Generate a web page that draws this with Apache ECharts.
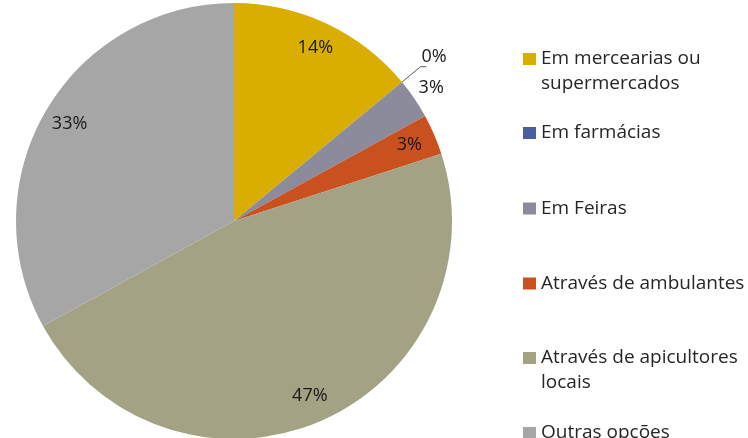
<!DOCTYPE html>
<html><head><meta charset="utf-8">
<script src="https://cdn.jsdelivr.net/npm/echarts@6/dist/echarts.min.js"></script>
<style>html,body{margin:0;padding:0;background:#fff}#c{width:748px;height:438px}</style>
</head><body><div id="c"></div>
<script>
const categories = ['Em mercearias ou supermercados','Em farmácias','Em Feiras','Através de ambulantes','Através de apicultores locais','Outras opções'];
const values = [14, 0, 3, 3, 47, 33];
const legendLabels = ['Em mercearias ou\nsupermercados','Em farmácias','Em Feiras','Através de ambulantes','Através de apicultores\nlocais','Outras opções'];
const colors = ['#D9AE00','#4A5F9E','#8B8B9B','#C9501F','#A3A285','#A6A6A6'];

const FONT = 'Open Sans';
const center = [234, 221];
const R = 218;
const outsideIdx = [1, 2];
const legendCenters = [59, 133, 208.5, 283.5, 358, 433];

const chart = echarts.init(document.getElementById('c'), null, {renderer:'canvas'});
const fmt = p => Math.round(p.value) + '%';

const legends = categories.map((name, i) => {
  const twoLine = legendLabels[i].indexOf('\n') >= 0;
  return {
    orient: 'vertical', left: 523,
    top: twoLine ? legendCenters[i] - 37.5 : legendCenters[i] - 12.5,
    padding: 0, itemWidth: 13, itemHeight: 12, itemGap: 0,
    icon: 'rect', selectedMode: false,
    data: [name],
    formatter: () => twoLine ? '\n' + legendLabels[i] : legendLabels[i],
    textStyle: {fontFamily: FONT, fontSize: 19, lineHeight: 25, color: '#262626'}
  };
});

chart.setOption({
  animation: false,
  color: colors,
  legend: legends,
  series: [
    {
      type: 'pie', center: center, radius: R, startAngle: 90, clockwise: true,
      avoidLabelOverlap: false, silent: true, stillShowZeroSum: true,
      itemStyle: {borderWidth: 0},
      label: {show: false},
      labelLine: {show: false},
      data: categories.map((n, i) => {
        const d = {name: n, value: values[i]};
        if (outsideIdx.includes(i)) {
          d.label = {show: true, position: 'outside', formatter: fmt, fontFamily: FONT, fontSize: 18, color: '#1a1a1a', distanceToLabelLine: 3};
          d.labelLine = i === 1 ? {show: true, length: 24, length2: 6, lineStyle: {color: '#595959', width: 1}} : {show: false, length: 4, length2: 0};
        }
        return d;
      }),
      labelLayout: p => {
        if (p.dataIndex === 1) return {dy: -10, dx: -8};
        if (p.dataIndex === 2) return {dy: -8, dx: -2};
        return {};
      }
    },
    {
      type: 'pie', center: center, radius: 376, startAngle: 90, clockwise: true,
      silent: true, legendHoverLink: false,
      itemStyle: {color: 'rgba(0,0,0,0)', borderWidth: 0},
      label: {show: true, position: 'inside', formatter: fmt, fontFamily: FONT, fontSize: 18, color: '#1a1a1a'},
      labelLine: {show: false},
      data: categories.map((n, i) => ({name: n, value: values[i], label: {show: !outsideIdx.includes(i)}}))
    }
  ]
});
</script></body></html>
